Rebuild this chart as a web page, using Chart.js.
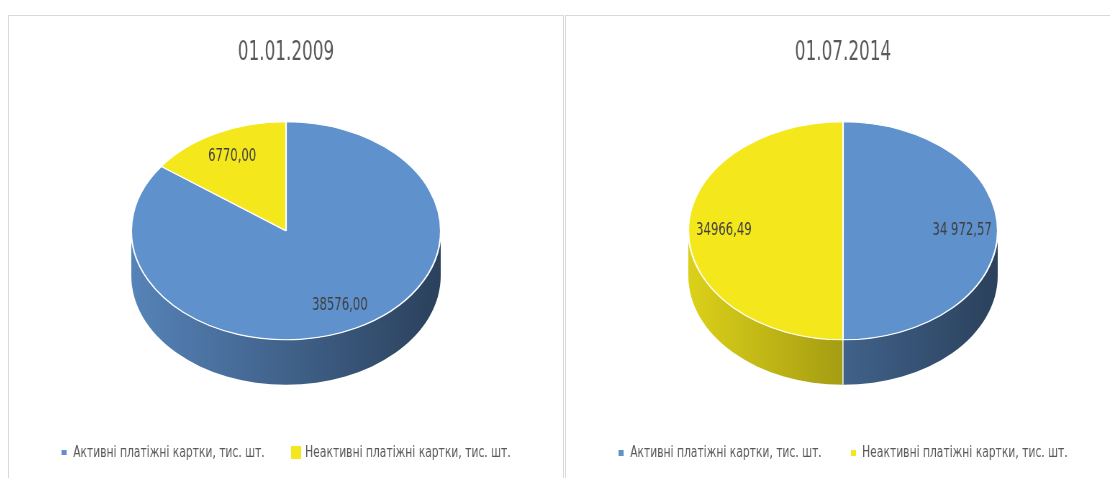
<!DOCTYPE html>
<html>
<head>
<meta charset="utf-8">
<script src="https://cdn.jsdelivr.net/npm/chart.js@4.4.1/dist/chart.umd.min.js"></script>
<style>
  html, body { margin: 0; background: #fff; width: 1110px; height: 478px; overflow: hidden; }
  .panel { position: absolute; top: 15px; width: 554px; height: 463px; border: 1px solid #d9d9d9; border-bottom: none; overflow: hidden; }
  #p1 { left: 8px; }
  #p2 { left: 565px; }
  /* charts are laid out wide and squeezed into the panel */
  .wrap { width: 770px; height: 462px; transform: scaleX(0.7195); transform-origin: 0 0; }
  canvas { display: block; }
</style>
</head>
<body>
<div class="panel" id="p1"><div class="wrap"><canvas id="c1" width="770" height="462"></canvas></div></div>
<div class="panel" id="p2"><div class="wrap"><canvas id="c2" width="770" height="462"></canvas></div></div>
<script>
var categories = ['Активні платіжні картки, тис. шт.', 'Неактивні платіжні картки, тис. шт.'];
var dates = ['01.01.2009', '01.07.2014'];
var cards2009 = [38576.00, 6770.00];
var cards2014 = [34972.57, 34966.49];
var colors = ['#5f91cc', '#f4e81c'];

var font = '"DejaVu Sans Condensed", "DejaVu Sans", sans-serif';

// 34972.57 -> "34 972,57" (grouped) or "34972,57"
function fmt(v, group) {
  var s = v.toFixed(2).replace('.', ',');
  if (group) s = s.replace(/\B(?=(\d{3})+,)/g, ' ');
  return s;
}

function shade(hex, f) {
  var n = parseInt(hex.slice(1), 16);
  var r = Math.round(((n >> 16) & 255) * f);
  var g = Math.round(((n >> 8) & 255) * f);
  var b = Math.round((n & 255) * f);
  return 'rgb(' + r + ',' + g + ',' + b + ')';
}

function marker(w, h, color) {
  var c = document.createElement('canvas');
  c.width = w; c.height = h;
  var x = c.getContext('2d');
  x.fillStyle = color;
  x.fillRect(0, 0, w, h);
  return c;
}

// tilted pie: rim drawn under the slices, slices stretched to an ellipse
function geometry(chart, opts) {
  var arcs = chart.getDatasetMeta(0).data;
  var a0 = arcs[0];
  var r = a0.outerRadius;
  return {
    arcs: arcs, x: a0.x, y: a0.y, r: r,
    rx: opts.rx, ry: opts.ry, d: opts.depth,
    cx: a0.x, cy: a0.y - opts.depth / 2
  };
}

var pie3d = {
  id: 'pie3d',
  beforeDatasetsDraw: function (chart, args, opts) {
    var ctx = chart.ctx;
    var g = geometry(chart, opts);
    var cols = chart.data.datasets[0].backgroundColor;

    g.arcs.forEach(function (arc, i) {
      [-2 * Math.PI, 0, 2 * Math.PI].forEach(function (off) {
        var s = Math.max(arc.startAngle, off), e = Math.min(arc.endAngle, off + Math.PI);
        if (e <= s) return;
        var grad = ctx.createLinearGradient(g.cx - g.rx, 0, g.cx + g.rx, 0);
        grad.addColorStop(0, shade(cols[i], 0.9));
        grad.addColorStop(1, shade(cols[i], 0.45));
        ctx.beginPath();
        ctx.ellipse(g.cx, g.cy, g.rx, g.ry, 0, s, e);
        ctx.ellipse(g.cx, g.cy + g.d, g.rx, g.ry, 0, e, s, true);
        ctx.closePath();
        ctx.fillStyle = grad;
        ctx.fill();
      });
    });

    // slice edges running down the front of the rim
    ctx.strokeStyle = '#fff';
    ctx.lineWidth = 1.4;
    g.arcs.forEach(function (arc) {
      var a = arc.startAngle;
      if (Math.sin(a) > 0.001) {
        var px = g.cx + Math.cos(a) * g.rx, py = g.cy + Math.sin(a) * g.ry;
        ctx.beginPath();
        ctx.moveTo(px, py);
        ctx.lineTo(px, py + g.d);
        ctx.stroke();
      }
    });

    ctx.save();
    ctx.translate(g.cx, g.cy);
    ctx.scale(g.rx / g.r, g.ry / g.r);
    ctx.translate(-g.x, -g.y);
  },
  afterDatasetsDraw: function (chart, args, opts) {
    var ctx = chart.ctx;
    ctx.restore();
    var g = geometry(chart, opts);
    ctx.save();
    ctx.font = '18px ' + font;
    ctx.fillStyle = '#404040';
    ctx.textAlign = 'center';
    ctx.textBaseline = 'middle';
    g.arcs.forEach(function (arc, i) {
      var mid = (arc.startAngle + arc.endAngle) / 2;
      ctx.fillText(opts.labels[i],
        g.cx + Math.cos(mid) * g.rx * opts.labelPos,
        g.cy + Math.sin(mid) * g.ry * opts.labelPos);
    });
    ctx.restore();
  }
};

function makeChart(id, title, values, group, marks) {
  return new Chart(document.getElementById(id), {
    type: 'pie',
    data: {
      labels: categories,
      datasets: [{
        data: values,
        backgroundColor: colors,
        borderColor: '#ffffff',
        borderWidth: 1.5
      }]
    },
    options: {
      responsive: false,
      animation: false,
      layout: { padding: { bottom: 7 } },
      plugins: {
        title: {
          display: true,
          text: title,
          color: '#595959',
          font: { family: font, size: 26, weight: 'normal' },
          padding: { top: 22, bottom: 33 }
        },
        legend: {
          position: 'bottom',
          labels: {
            usePointStyle: true,
            boxWidth: 8,
            boxHeight: 8,
            padding: 40,
            color: '#595959',
            font: { family: font, size: 16.6 },
            generateLabels: function (chart) {
              return chart.data.labels.map(function (t, i) {
                return { text: t, fillStyle: colors[i], strokeStyle: colors[i], lineWidth: 0,
                         pointStyle: marks[i], hidden: false, index: i, fontColor: '#595959' };
              });
            }
          }
        },
        tooltip: { enabled: false },
        pie3d: {
          rx: 215,
          ry: 109,
          depth: 45,
          labelPos: 0.77,
          labels: values.map(function (v, i) { return fmt(v, group[i]); })
        }
      }
    },
    plugins: [pie3d]
  });
}

makeChart('c1', dates[0], cards2009, [false, false],
  [marker(7, 5, colors[0]), marker(14, 13, colors[1])]);
makeChart('c2', dates[1], cards2014, [true, false],
  [marker(7, 6, colors[0]), marker(7, 6, colors[1])]);
</script>
</body>
</html>
